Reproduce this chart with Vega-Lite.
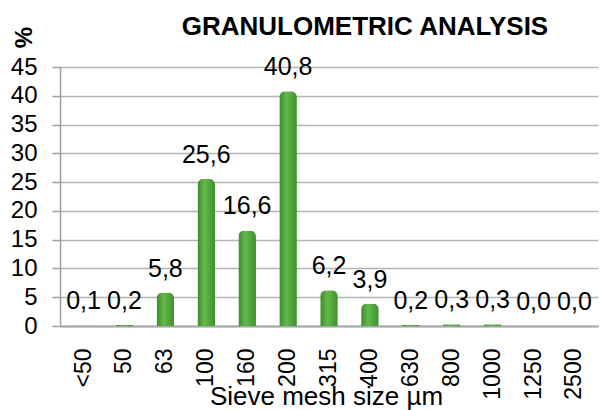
{
  "$schema": "https://vega.github.io/schema/vega-lite/v6.json",
  "width": 538,
  "height": 259,
  "autosize": {"type": "none"},
  "padding": {"left": 60, "top": 67, "right": 4, "bottom": 84},
  "background": "white",
  "title": {
    "text": "GRANULOMETRIC ANALYSIS",
    "font": "Liberation Sans",
    "fontSize": 26,
    "fontWeight": "bold",
    "color": "black",
    "anchor": "middle",
    "dx": 36,
    "baseline": "alphabetic",
    "offset": -35
  },
  "config": {
    "locale": {"number": {"decimal": ",", "thousands": ".", "grouping": [3], "currency": ["", " €"]}},
    "view": {"stroke": null}
  },
  "data": {
    "values": [
      {"size": "<50", "pct": 0.1},
      {"size": "50", "pct": 0.2},
      {"size": "63", "pct": 5.8},
      {"size": "100", "pct": 25.6},
      {"size": "160", "pct": 16.6},
      {"size": "200", "pct": 40.8},
      {"size": "315", "pct": 6.2},
      {"size": "400", "pct": 3.9},
      {"size": "630", "pct": 0.2},
      {"size": "800", "pct": 0.3},
      {"size": "1000", "pct": 0.3},
      {"size": "1250", "pct": 0.0},
      {"size": "2500", "pct": 0.0}
    ]
  },
  "encoding": {
    "x": {
      "field": "size",
      "type": "ordinal",
      "sort": null,
      "scale": {"paddingInner": 0.57, "paddingOuter": 0.36},
      "axis": {
        "title": "Sieve mesh size µm",
        "titleFont": "Liberation Sans",
        "titleFontSize": 26,
        "titleFontWeight": "normal",
        "titleColor": "black",
        "titleBaseline": "alphabetic",
        "titleX": 266,
        "titleY": 78,
        "labelAngle": -90,
        "labelFont": "Liberation Sans",
        "labelFontSize": 23,
        "labelColor": "black",
        "labelPadding": 22,
        "ticks": false,
        "domainColor": "#a6a6a6",
        "domainWidth": 2,
        "grid": false
      }
    },
    "y": {
      "field": "pct",
      "type": "quantitative",
      "scale": {"domain": [0, 45], "nice": false},
      "axis": {
        "title": "%",
        "titleFont": "Liberation Sans",
        "titleFontSize": 24,
        "titleFontWeight": "bold",
        "titleColor": "black",
        "titleAngle": -90,
        "titleAlign": "center",
        "titleBaseline": "middle",
        "titleX": -36,
        "titleY": -30,
        "values": [0, 5, 10, 15, 20, 25, 30, 35, 40, 45],
        "labelFont": "Liberation Sans",
        "labelFontSize": 24,
        "labelColor": "black",
        "labelPadding": 15,
        "tickSize": 8,
        "tickColor": "#a0a0a0",
        "tickWidth": 1.5,
        "domainColor": "#a0a0a0",
        "domainWidth": 1.5,
        "grid": true,
        "gridColor": "#b3b3b3",
        "gridWidth": 1.5
      }
    }
  },
  "layer": [
    {
      "mark": {
        "type": "bar",
        "cornerRadiusTopLeft": 6,
        "cornerRadiusTopRight": 6,
        "color": {
          "gradient": "linear",
          "x1": 0, "x2": 1, "y1": 0, "y2": 0,
          "stops": [
            {"offset": 0, "color": "#3b8a2b"},
            {"offset": 0.4, "color": "#63ba4b"},
            {"offset": 1, "color": "#3e902e"}
          ]
        }
      }
    },
    {
      "mark": {
        "type": "text",
        "dy": -16,
        "baseline": "alphabetic",
        "font": "Liberation Sans",
        "fontSize": 25,
        "color": "black"
      },
      "encoding": {
        "text": {"field": "pct", "type": "quantitative", "format": ".1f"}
      }
    }
  ]
}
